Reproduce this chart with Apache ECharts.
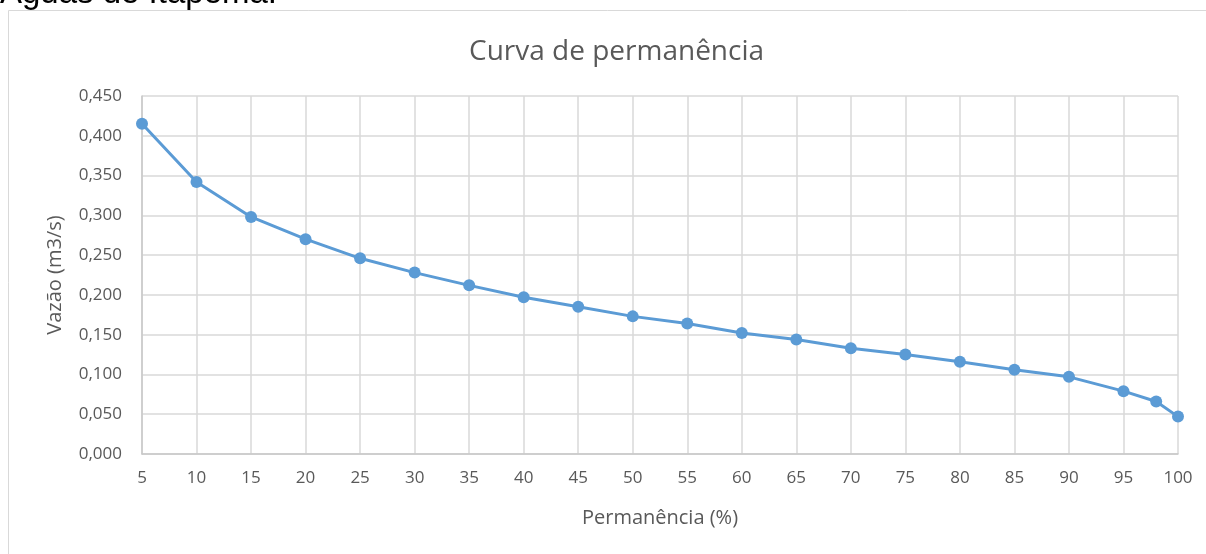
<!DOCTYPE html>
<html>
<head>
<meta charset="utf-8">
<script src="https://cdn.jsdelivr.net/npm/echarts@6/dist/echarts.min.js"></script>
<style>
  html, body { margin: 0; padding: 0; background: #fff; }
  #chart { width: 1206px; height: 554px; }
</style>
</head>
<body>
<div id="chart"></div>
<script>
// permanência (%) e vazão (m3/s)
const permanencia = [5, 10, 15, 20, 25, 30, 35, 40, 45, 50, 55, 60, 65, 70, 75, 80, 85, 90, 95, 98, 100];
const vazao = [0.415, 0.342, 0.298, 0.270, 0.246, 0.228, 0.212, 0.197, 0.185, 0.173, 0.164,
               0.152, 0.144, 0.133, 0.125, 0.116, 0.106, 0.097, 0.079, 0.066, 0.047];

const chart = echarts.init(document.getElementById("chart"));
const txt = "#595959";
const font = "'Open Sans', 'Noto Sans', sans-serif";

chart.setOption({
  animation: false,
  graphic: [
    {
      type: "rect",
      shape: { x: 8.5, y: 10.5, width: 1300, height: 700 },
      style: { fill: "none", stroke: "#d9d9d9", lineWidth: 1 }
    },
    {
      type: "text",
      left: 0,
      top: -23,
      style: { text: "Águas de Itapema.", font: "33px 'Liberation Sans', Arial, sans-serif", fill: "#000" }
    }
  ],
  title: {
    text: "Curva de permanência",
    left: 464,
    top: 33,
    textStyle: { color: txt, fontFamily: font, fontSize: 28, fontWeight: "normal" }
  },
  grid: { left: 142, right: 28, top: 96, bottom: 100 },
  xAxis: {
    type: "value",
    min: 5,
    max: 100,
    interval: 5,
    name: "Permanência (%)",
    nameLocation: "middle",
    nameGap: 54,
    nameTextStyle: { color: txt, fontFamily: font, fontSize: 20 },
    axisLine: { lineStyle: { color: "#c8c8c8", width: 1.5 } },
    axisTick: { show: false },
    axisLabel: { color: txt, fontFamily: font, fontSize: 17, margin: 16 },
    splitLine: { show: true, lineStyle: { color: "#d9d9d9", width: 1.5 } }
  },
  yAxis: {
    type: "value",
    min: 0,
    max: 0.45,
    interval: 0.05,
    name: "Vazão (m3/s)",
    nameLocation: "middle",
    nameGap: 77,
    nameTextStyle: { color: txt, fontFamily: font, fontSize: 20 },
    axisLine: { show: true, lineStyle: { color: "#c8c8c8", width: 1.5 } },
    axisTick: { show: false },
    axisLabel: {
      color: txt, fontFamily: font, fontSize: 17, margin: 20,
      formatter: v => v.toFixed(3).replace(".", ",")
    },
    splitLine: { lineStyle: { color: "#d9d9d9", width: 1.5 } }
  },
  series: [
    {
      type: "line",
      data: permanencia.map((p, i) => [p, vazao[i]]),
      symbol: "circle",
      symbolSize: 12,
      lineStyle: { color: "#5b9bd5", width: 3 },
      itemStyle: { color: "#5b9bd5" }
    }
  ]
});
</script>
</body>
</html>
